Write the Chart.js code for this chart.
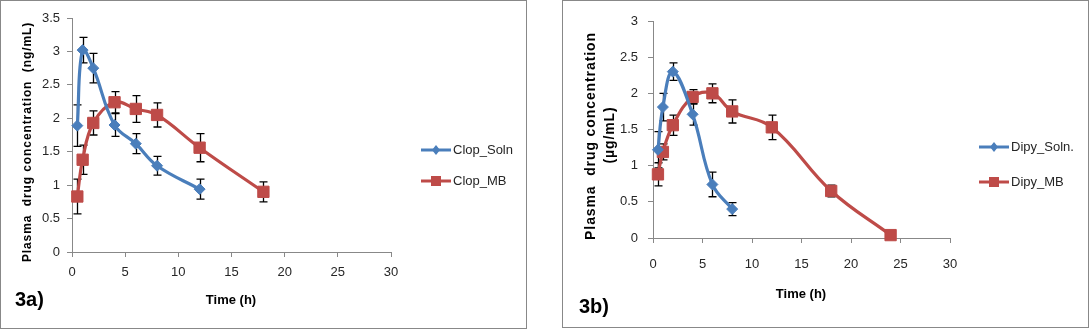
<!DOCTYPE html>
<html>
<head>
<meta charset="utf-8">
<script src="https://cdn.jsdelivr.net/npm/chart.js@4.4.1/dist/chart.umd.min.js"></script>
<style>
  html, body { margin: 0; padding: 0; background: #fff; width: 1089px; height: 330px; overflow: hidden; }
  .panel { position: absolute; top: 0; border: 1px solid #888; background: #fff; }
  #p1 { left: 0; width: 525px; height: 327px; }
  #p2 { left: 562px; width: 525px; height: 326px; }
  canvas { display: block; }
</style>
</head>
<body>
<div class="panel" id="p1"><canvas id="c1" width="525" height="327"></canvas></div>
<div class="panel" id="p2"><canvas id="c2" width="525" height="326"></canvas></div>
<script>
// Clopidogrel plasma levels (mean and SD), 3a
const timeClopSoln = [0.5, 1, 2, 4, 6, 8, 12];
const clopSoln     = [1.89, 3.02, 2.75, 1.90, 1.62, 1.29, 0.94];
const clopSolnSD   = [0.31, 0.19, 0.22, 0.17, 0.15, 0.14, 0.15];
const timeClopMB   = [0.5, 1, 2, 4, 6, 8, 12, 18];
const clopMB       = [0.83, 1.38, 1.93, 2.24, 2.14, 2.05, 1.56, 0.90];
const clopMBSD     = [0.26, 0.22, 0.18, 0.16, 0.20, 0.18, 0.21, 0.15];

// Dipyridamole plasma levels (mean and SD), 3b
const timeDipySoln = [0.5, 1, 2, 4, 6, 8];
const dipySoln     = [1.22, 1.81, 2.30, 1.71, 0.74, 0.40];
const dipySolnSD   = [0.25, 0.19, 0.12, 0.15, 0.17, 0.09];
const timeDipyMB   = [0.5, 1, 2, 4, 6, 8, 12, 18, 24];
const dipyMB       = [0.88, 1.19, 1.56, 1.95, 2.00, 1.75, 1.53, 0.65, 0.04];
const dipyMBSD     = [0.16, 0.11, 0.14, 0.10, 0.13, 0.16, 0.17, 0.08, 0.02];

// Axis tick labels
const xTickLabels     = ['0', '5', '10', '15', '20', '25', '30'];
const yTickLabelsClop = ['0', '0.5', '1', '1.5', '2', '2.5', '3', '3.5'];
const yTickLabelsDipy = ['0', '0.5', '1', '1.5', '2', '2.5', '3'];

const FONT = '"Liberation Sans", Arial, sans-serif';
const BLUE = '#4A7EBB';
const RED = '#BE4B48';
const AXIS = '#888888';
const TICK_TEXT = '#262626';

const toPoints = (xs, ys) => xs.map((x, i) => ({ x, y: ys[i] }));

// Vertical error bars with caps, drawn under the series
const errorBars = {
  id: 'errorBars',
  beforeDatasetsDraw(chart) {
    const { ctx } = chart;
    const xs = chart.scales.x, ys = chart.scales.y;
    ctx.save();
    ctx.strokeStyle = '#000';
    ctx.lineWidth = 1.3;
    chart.data.datasets.forEach(ds => {
      ds.data.forEach((p, i) => {
        const e = ds.errors[i];
        const x = Math.round(xs.getPixelForValue(p.x)) + 0.5;
        const yT = ys.getPixelForValue(p.y + e);
        const yB = ys.getPixelForValue(p.y - e);
        ctx.beginPath();
        ctx.moveTo(x, yT); ctx.lineTo(x, yB);
        ctx.moveTo(x - 4, yT); ctx.lineTo(x + 4, yT);
        ctx.moveTo(x - 4, yB); ctx.lineTo(x + 4, yB);
        ctx.stroke();
      });
    });
    ctx.restore();
  }
};

// Axis titles, panel tag and the series key
const panelText = {
  id: 'panelText',
  afterDraw(chart, args, o) {
    const { ctx } = chart;
    ctx.save();
    ctx.fillStyle = '#000';
    ctx.textAlign = 'center';
    ctx.textBaseline = 'middle';

    ctx.font = `bold ${o.yTitleSize}px ${FONT}`;
    if ('letterSpacing' in ctx) ctx.letterSpacing = o.yTitleSpacing;
    o.yTitle.forEach((line, i) => {
      ctx.save();
      ctx.translate(o.yTitleX[i], o.yTitleY[i]);
      ctx.rotate(-Math.PI / 2);
      ctx.fillText(line, 0, 0);
      ctx.restore();
    });
    if ('letterSpacing' in ctx) ctx.letterSpacing = '0px';

    ctx.font = `bold 13px ${FONT}`;
    ctx.fillText(o.xTitle, o.xTitleX, o.xTitleY);

    ctx.font = `bold 20px ${FONT}`;
    ctx.textAlign = 'left';
    ctx.fillText(o.tag, o.tagX, o.tagY);

    // key
    ctx.font = `13px ${FONT}`;
    ctx.fillStyle = TICK_TEXT;
    chart.data.datasets.forEach((ds, i) => {
      const y = o.keyY[i];
      const mid = (o.keyX0 + o.keyX1) / 2;
      ctx.strokeStyle = ds.borderColor;
      ctx.lineWidth = 3;
      ctx.beginPath();
      ctx.moveTo(o.keyX0, y); ctx.lineTo(o.keyX1, y);
      ctx.stroke();
      ctx.fillStyle = ds.borderColor;
      ctx.beginPath();
      if (ds.pointStyle === 'rect') {
        ctx.rect(mid - 5, y - 5, 10, 10);
      } else {
        ctx.moveTo(mid, y - 5); ctx.lineTo(mid + 4, y); ctx.lineTo(mid, y + 5); ctx.lineTo(mid - 4, y);
        ctx.closePath();
      }
      ctx.fill();
      ctx.fillStyle = TICK_TEXT;
      ctx.fillText(ds.label, o.keyTextX, y);
    });
    ctx.restore();
  }
};

function series(label, xs, ys, sd, color, style, radius) {
  return {
    label,
    data: toPoints(xs, ys),
    errors: sd,
    borderColor: color,
    backgroundColor: color,
    borderWidth: 3.2,
    tension: 0.4,
    pointStyle: style,
    pointRadius: radius,
    pointHoverRadius: radius,
    pointBorderWidth: 1,
    pointBorderColor: color,
    pointBackgroundColor: color,
    clip: false
  };
}

function scales(yMax, yLabels, g) {
  return {
    x: {
      type: 'linear', min: 0, max: 30,
      ticks: { stepSize: 5, padding: g.xPad, color: TICK_TEXT, font: { family: FONT, size: 13 },
               callback: (v, i) => xTickLabels[i] },
      grid: { drawOnChartArea: false, drawTicks: true, tickLength: 5, color: AXIS },
      border: { color: AXIS, width: 1 },
      afterFit: s => { s.height = g.xH; }
    },
    y: {
      type: 'linear', min: 0, max: yMax,
      ticks: { stepSize: 0.5, padding: g.yPad, color: TICK_TEXT, font: { family: FONT, size: 13 },
               callback: (v, i) => yLabels[i] },
      grid: { drawOnChartArea: false, drawTicks: true, tickLength: 5, color: AXIS },
      border: { color: AXIS, width: 1 },
      afterFit: s => { s.width = g.yW; }
    }
  };
}

const common = {
  responsive: false,
  animation: false,
  events: [],
  plugins: { legend: { display: false }, tooltip: { enabled: false } }
};

new Chart(document.getElementById('c1'), {
  type: 'line',
  data: {
    datasets: [
      series('Clop_Soln', timeClopSoln, clopSoln, clopSolnSD, BLUE, 'rectRot', 5.5),
      series('Clop_MB', timeClopMB, clopMB, clopMBSD, RED, 'rect', 8)
    ]
  },
  options: {
    ...common,
    layout: { padding: { top: 17, right: 135, bottom: 0, left: 0 } },
    scales: scales(3.5, yTickLabelsClop, { xH: 76, yW: 71, xPad: 8, yPad: 7 }),
    plugins: {
      ...common.plugins,
      panelText: {
        yTitle: ['Plasma  drug concentration  (ng/mL)'], yTitleX: [27], yTitleY: [141],
        yTitleSize: 12, yTitleSpacing: '0.9px',
        xTitle: 'Time (h)', xTitleX: 230, xTitleY: 299,
        tag: '3a)', tagX: 14, tagY: 299,
        keyX0: 420, keyX1: 450, keyTextX: 452, keyY: [149, 180]
      }
    }
  },
  plugins: [errorBars, panelText]
});

new Chart(document.getElementById('c2'), {
  type: 'line',
  data: {
    datasets: [
      series('Dipy_Soln.', timeDipySoln, dipySoln, dipySolnSD, BLUE, 'rectRot', 5.5),
      series('Dipy_MB', timeDipyMB, dipyMB, dipyMBSD, RED, 'rect', 8)
    ]
  },
  options: {
    ...common,
    layout: { padding: { top: 20, right: 138, bottom: 0, left: 0 } },
    scales: scales(3, yTickLabelsDipy, { xH: 89, yW: 90, xPad: 14, yPad: 10 }),
    plugins: {
      ...common.plugins,
      panelText: {
        yTitle: ['Plasma  drug concentration', '(\u00b5g/mL)'], yTitleX: [28, 47], yTitleY: [135, 134],
        yTitleSize: 14, yTitleSpacing: '0.9px',
        xTitle: 'Time (h)', xTitleX: 238, xTitleY: 293,
        tag: '3b)', tagX: 16, tagY: 306,
        keyX0: 416, keyX1: 446, keyTextX: 448, keyY: [146, 181]
      }
    }
  },
  plugins: [errorBars, panelText]
});
</script>
</body>
</html>
